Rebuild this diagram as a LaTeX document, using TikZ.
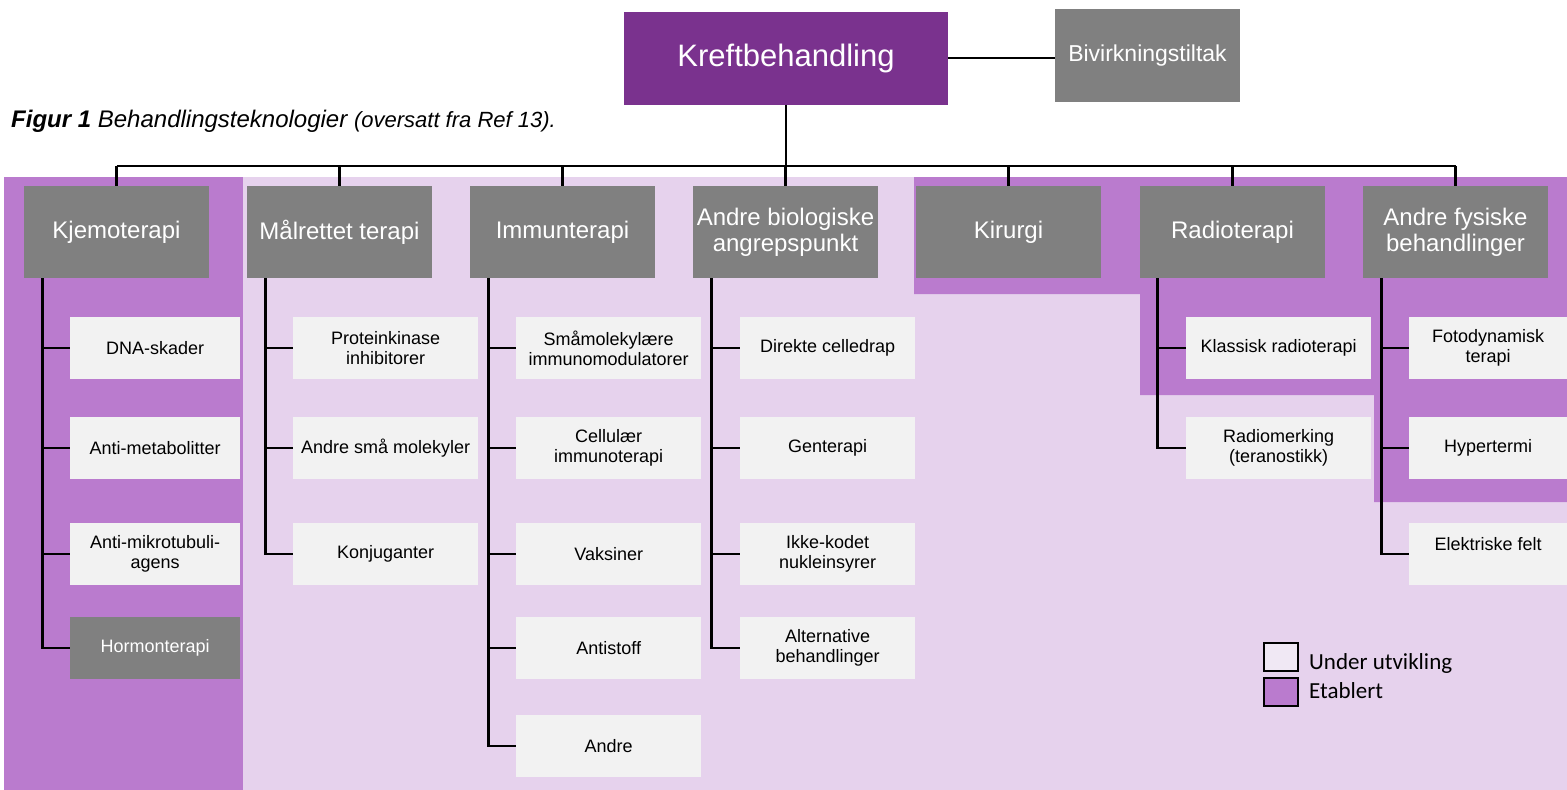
\documentclass[tikz,border=0pt]{standalone}
\usepackage{fontspec}
\setmainfont{Liberation Sans}
\newfontfamily\legendfont{Carlito}
\definecolor{kreftlilla}{RGB}{122,50,142}
\definecolor{lyslilla}{RGB}{230,210,237}
\definecolor{morklilla}{RGB}{186,123,206}
\definecolor{boksgraa}{RGB}{128,128,128}
\definecolor{bladgraa}{RGB}{242,242,242}
\definecolor{legendlys}{RGB}{240,232,244}
\tikzset{
	gruppe/.style = {fill = boksgraa, text = white, minimum width = 185pt, minimum height = 92pt, inner sep = 0pt, align = center, font = \fontsize{24}{26}\selectfont},
	blad/.style = {fill = bladgraa, minimum height = 62pt, inner sep = 0pt, anchor = west, align = center, font = \fontsize{18}{20}\selectfont},
	bladmork/.style = {blad, fill = boksgraa, text = white},
	linje/.style = {line width = 2.8pt},
	legendboks/.style = {draw, line width = 1.5pt, minimum width = 34pt, minimum height = 28pt, inner sep = 0pt}
}
\begin{document}
\begin{tikzpicture}[x = 1pt, y = -1pt]
		\useasboundingbox (0, 0) rectangle (1567, 790);
		% bakgrunn: under utvikling / etablert
		\fill[lyslilla] (4, 177) rectangle (1567, 790);
		\fill[morklilla] (4, 177) rectangle (243, 790);
		\fill[morklilla] (914, 177) -- (1567, 177) -- (1567, 502) -- (1374, 502) -- (1374, 395) -- (1140, 395) -- (1140, 294) -- (914, 294) -- cycle;
		% tittel
		\node[anchor = base west, inner sep = 0pt] (tittel) at (11, 127) {\fontsize{24}{26}\selectfont\bfseries\itshape Figur 1 \mdseries Behandlingsteknologier {\fontsize{22}{24}\selectfont (oversatt fra Ref 13).}};
		% toppnivå
		\node[fill = kreftlilla, text = white, minimum width = 324pt, minimum height = 93pt, font = \fontsize{31}{34}\selectfont] (kreft) at (786, 58) {Kreftbehandling};
		\node[gruppe, minimum height = 93pt, font = \fontsize{23}{26}\selectfont] (bivirk) at (1147.5, 55.5) {Bivirkningstiltak};
		\draw[linje] (kreft.east) -- (kreft.east -| bivirk.west);
		% grupper
		\foreach \navn/\x/\tekst in {kjemo/116.5/Kjemoterapi, malrettet/339.5/Målrettet terapi, immun/562.5/Immunterapi, andrebio/785.5/{Andre biologiske\\angrepspunkt}, kirurgi/1008.5/Kirurgi, radio/1232.5/Radioterapi, fysisk/1455.5/{Andre fysiske\\behandlinger}}
			\node[gruppe] (\navn) at (\x, 232) {\tekst};
		\coordinate (buss) at (0, 166);
		\draw[linje] (kreft.south) -- (kreft.south |- buss);
		\draw[linje] (kjemo.north |- buss) -- (fysisk.north |- buss);
		\foreach \navn in {kjemo, malrettet, immun, andrebio, kirurgi, radio, fysisk}
			\draw[linje] (\navn.north |- buss) -- (\navn.north);
		% kjemoterapi
		\node[blad, minimum width = 170pt] (dna) at (70, 348) {DNA-skader};
		\node[blad, minimum width = 170pt] (antimet) at (70, 448) {Anti-metabolitter};
		\node[blad, minimum width = 170pt] (antimikro) at (70, 554) {Anti-mikrotubuli-\\agens};
		\node[bladmork, minimum width = 170pt] (hormon) at (70, 648) {Hormonterapi};
		\foreach \b in {dna, antimet, antimikro, hormon}
			\draw[linje] ([xshift = 19pt]kjemo.south west) |- (\b.west);
		% målrettet terapi
		\node[blad, minimum width = 185pt] (protein) at (293, 348) {Proteinkinase\\inhibitorer};
		\node[blad, minimum width = 185pt] (smamol) at (293, 448) {Andre små molekyler};
		\node[blad, minimum width = 185pt] (konj) at (293, 554) {Konjuganter};
		\foreach \b in {protein, smamol, konj}
			\draw[linje] ([xshift = 19pt]malrettet.south west) |- (\b.west);
		% immunterapi
		\node[blad, minimum width = 185pt] (immunmod) at (516, 348) {Småmolekylære\\immunomodulatorer};
		\node[blad, minimum width = 185pt] (cellul) at (516, 448) {Cellulær\\immunoterapi};
		\node[blad, minimum width = 185pt] (vaks) at (516, 554) {Vaksiner};
		\node[blad, minimum width = 185pt] (antistoff) at (516, 648) {Antistoff};
		\node[blad, minimum width = 185pt] (andre) at (516, 746) {Andre};
		\foreach \b in {immunmod, cellul, vaks, antistoff, andre}
			\draw[linje] ([xshift = 19pt]immun.south west) |- (\b.west);
		% andre biologiske angrepspunkt
		\node[blad, minimum width = 175pt] (celledrap) at (740, 348) {Direkte celledrap};
		\node[blad, minimum width = 175pt] (gen) at (740, 448) {Genterapi};
		\node[blad, minimum width = 175pt] (ikkekodet) at (740, 554) {Ikke-kodet\\nukleinsyrer};
		\node[blad, minimum width = 175pt] (altern) at (740, 648) {Alternative\\behandlinger};
		\foreach \b in {celledrap, gen, ikkekodet, altern}
			\draw[linje] ([xshift = 19pt]andrebio.south west) |- (\b.west);
		% radioterapi
		\node[blad, minimum width = 185pt] (klassisk) at (1186, 348) {Klassisk radioterapi};
		\node[blad, minimum width = 185pt] (radiomerk) at (1186, 448) {Radiomerking\\(teranostikk)};
		\foreach \b in {klassisk, radiomerk}
			\draw[linje] ([xshift = 18pt]radio.south west) |- (\b.west);
		% andre fysiske behandlinger
		\node[blad, minimum width = 158pt] (foto) at (1409, 348) {Fotodynamisk\\terapi};
		\node[blad, minimum width = 158pt] (hyper) at (1409, 448) {Hypertermi};
		\node[blad, minimum width = 158pt] (elektr) at (1409, 554) {Elektriske felt\\\mbox{}};
		\foreach \b in {foto, hyper, elektr}
			\draw[linje] ([xshift = 19pt]fysisk.south west) |- (\b.west);
		% forklaring
		\node[legendboks, fill = legendlys] (utvikling) at (1281, 657) {};
		\node[legendboks, fill = morklilla] (etablert) at (1281, 692) {};
		\node[anchor = base west, inner sep = 0pt, font = \legendfont\fontsize{23}{26}\selectfont] (utviklingtekst) at (1309, 669) {Under utvikling};
		\node[anchor = base west, inner sep = 0pt, font = \legendfont\fontsize{23}{26}\selectfont] (etablerttekst) at (1309, 698) {Etablert};
	\end{tikzpicture}
\end{document}
